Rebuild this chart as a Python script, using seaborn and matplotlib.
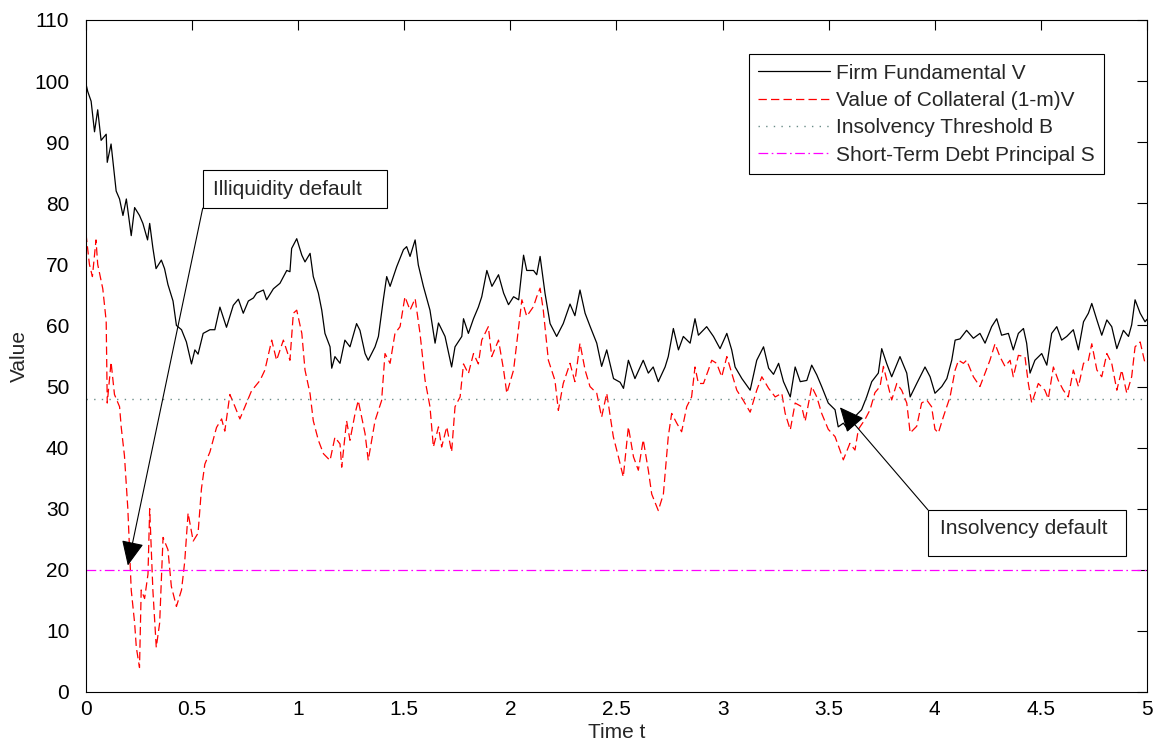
import numpy as np
import matplotlib
matplotlib.use('Agg')
import matplotlib.pyplot as plt
from matplotlib.patches import Rectangle
import seaborn as sns

# Firm fundamental V
t_v = [0.000, 0.008, 0.024, 0.040, 0.055, 0.071, 0.095, 0.100, 0.118, 0.142, 0.158, 0.174, 0.190, 0.213, 0.229,
       0.252, 0.268, 0.290, 0.300, 0.315, 0.330, 0.355, 0.370, 0.386, 0.410, 0.426, 0.450, 0.473, 0.497, 0.513,
       0.528, 0.552, 0.584, 0.607, 0.631, 0.662, 0.694, 0.718, 0.741, 0.765, 0.789, 0.804, 0.836, 0.851, 0.883,
       0.914, 0.946, 0.961, 0.969, 0.993, 1.017, 1.032, 1.056, 1.071, 1.095, 1.111, 1.126, 1.150, 1.158, 1.173,
       1.197, 1.220, 1.244, 1.275, 1.291, 1.315, 1.330, 1.362, 1.378, 1.401, 1.417, 1.433, 1.464, 1.496, 1.511,
       1.527, 1.551, 1.566, 1.590, 1.621, 1.645, 1.661, 1.692, 1.723, 1.739, 1.771, 1.779, 1.802, 1.826, 1.849,
       1.865, 1.889, 1.913, 1.944, 1.968, 1.991, 2.015, 2.039, 2.062, 2.077, 2.109, 2.124, 2.140, 2.163, 2.187,
       2.218, 2.249, 2.281, 2.304, 2.328, 2.352, 2.375, 2.407, 2.430, 2.454, 2.486, 2.517, 2.533, 2.556, 2.587,
       2.626, 2.650, 2.673, 2.697, 2.729, 2.744, 2.768, 2.792, 2.815, 2.847, 2.870, 2.886, 2.925, 2.957, 2.988,
       3.020, 3.043, 3.059, 3.091, 3.130, 3.161, 3.193, 3.217, 3.240, 3.264, 3.287, 3.319, 3.342, 3.366, 3.397,
       3.420, 3.444, 3.467, 3.498, 3.530, 3.545, 3.569, 3.593, 3.624, 3.655, 3.679, 3.703, 3.734, 3.750, 3.773,
       3.797, 3.836, 3.868, 3.884, 3.915, 3.954, 3.978, 4.001, 4.033, 4.057, 4.080, 4.096, 4.119, 4.150, 4.182,
       4.213, 4.237, 4.268, 4.292, 4.315, 4.347, 4.370, 4.394, 4.418, 4.433, 4.449, 4.472, 4.504, 4.528, 4.551,
       4.575, 4.598, 4.622, 4.653, 4.677, 4.701, 4.724, 4.740, 4.764, 4.787, 4.811, 4.834, 4.858, 4.889, 4.913,
       4.928, 4.944, 4.968, 4.991, 5.000]
v_vals = [99.5, 98.3, 96.7, 91.7, 95.3, 90.3, 91.3, 86.7, 89.7, 82.0, 80.7, 78.0, 80.7, 74.7, 79.3,
          78.0, 76.7, 74.0, 76.7, 72.7, 69.3, 70.7, 69.3, 66.7, 64.0, 60.0, 59.3, 57.3, 53.7, 56.0,
          55.3, 58.7, 59.3, 59.3, 63.0, 59.7, 63.3, 64.3, 62.0, 64.0, 64.5, 65.3, 65.8, 64.2, 66.0,
          66.9, 69.0, 68.8, 72.6, 74.2, 71.5, 70.4, 71.8, 68.0, 65.3, 62.5, 58.7, 56.5, 53.0, 54.9,
          53.8, 57.6, 56.5, 60.3, 59.2, 55.4, 54.3, 56.5, 58.2, 64.2, 68.0, 66.4, 69.6, 72.4, 72.9,
          71.3, 74.0, 69.9, 66.4, 62.5, 57.1, 60.4, 58.2, 53.2, 56.5, 58.2, 61.1, 58.7, 61.1, 63.0,
          64.7, 69.0, 66.4, 68.3, 65.3, 63.4, 64.7, 64.2, 71.5, 69.0, 69.0, 68.3, 71.3, 65.3, 60.3,
          58.2, 60.3, 63.5, 61.6, 65.8, 62.0, 59.9, 57.1, 53.3, 56.0, 51.3, 50.7, 49.7, 54.3, 51.3,
          54.3, 52.2, 53.2, 50.8, 53.2, 54.9, 59.5, 56.0, 58.2, 57.1, 61.1, 58.4, 59.8, 58.2, 56.2,
          58.7, 56.0, 53.2, 51.3, 49.4, 54.3, 56.5, 53.0, 52.0, 53.8, 50.8, 48.3, 53.2, 50.8, 51.0,
          53.5, 51.9, 50.0, 47.3, 46.2, 43.4, 44.0, 42.9, 45.1, 46.2, 48.3, 50.8, 52.2, 56.2, 53.8,
          51.6, 54.9, 52.2, 48.3, 50.5, 53.2, 51.6, 48.9, 50.0, 51.3, 54.3, 57.6, 57.8, 59.2, 57.9,
          58.7, 57.1, 59.8, 61.1, 58.4, 58.7, 56.0, 58.7, 59.5, 57.1, 52.2, 54.3, 55.4, 53.5, 58.7,
          59.8, 57.6, 58.2, 59.3, 56.0, 60.6, 62.0, 63.6, 60.9, 58.4, 60.9, 59.8, 56.2, 59.2, 58.2,
          60.1, 64.2, 62.0, 60.6, 61.0]

# Value of collateral (1-m)V
t_c = [0.000, 0.003, 0.016, 0.030, 0.047, 0.055, 0.079, 0.095, 0.100, 0.118, 0.134, 0.158, 0.166, 0.181, 0.197,
       0.205, 0.213, 0.229, 0.237, 0.252, 0.260, 0.276, 0.292, 0.300, 0.315, 0.331, 0.347, 0.363, 0.386, 0.402,
       0.426, 0.450, 0.465, 0.481, 0.505, 0.528, 0.544, 0.560, 0.584, 0.615, 0.639, 0.654, 0.678, 0.702, 0.725,
       0.749, 0.780, 0.820, 0.843, 0.875, 0.898, 0.930, 0.961, 0.977, 0.993, 1.017, 1.032, 1.056, 1.071, 1.095,
       1.119, 1.150, 1.173, 1.197, 1.205, 1.228, 1.244, 1.268, 1.283, 1.299, 1.315, 1.330, 1.362, 1.393, 1.409,
       1.433, 1.456, 1.480, 1.503, 1.527, 1.551, 1.574, 1.598, 1.621, 1.637, 1.661, 1.676, 1.700, 1.723, 1.739,
       1.763, 1.779, 1.802, 1.826, 1.849, 1.865, 1.896, 1.912, 1.944, 1.968, 1.983, 2.015, 2.039, 2.054, 2.077,
       2.109, 2.124, 2.140, 2.155, 2.179, 2.210, 2.226, 2.249, 2.281, 2.304, 2.328, 2.352, 2.375, 2.407, 2.430,
       2.454, 2.485, 2.509, 2.532, 2.556, 2.580, 2.603, 2.626, 2.650, 2.666, 2.697, 2.721, 2.744, 2.760, 2.784,
       2.807, 2.831, 2.854, 2.870, 2.886, 2.910, 2.933, 2.949, 2.972, 2.996, 3.020, 3.043, 3.067, 3.098, 3.130,
       3.161, 3.185, 3.217, 3.248, 3.279, 3.295, 3.319, 3.342, 3.373, 3.389, 3.420, 3.444, 3.467, 3.498, 3.530,
       3.553, 3.569, 3.600, 3.624, 3.640, 3.671, 3.695, 3.718, 3.742, 3.758, 3.781, 3.797, 3.821, 3.844, 3.868,
       3.884, 3.915, 3.938, 3.962, 3.985, 4.001, 4.017, 4.041, 4.072, 4.096, 4.112, 4.135, 4.150, 4.182, 4.213,
       4.237, 4.260, 4.284, 4.307, 4.331, 4.355, 4.370, 4.394, 4.425, 4.441, 4.457, 4.488, 4.519, 4.535, 4.559,
       4.582, 4.606, 4.629, 4.653, 4.677, 4.701, 4.724, 4.740, 4.764, 4.787, 4.811, 4.834, 4.858, 4.881, 4.905,
       4.928, 4.944, 4.968, 4.991, 5.000]
c_vals = [75.0, 74.0, 70.0, 68.0, 74.0, 70.0, 66.0, 60.7, 47.3, 54.0, 48.7, 46.7, 43.3, 38.7, 30.0,
          23.3, 16.7, 11.3, 7.3, 4.0, 16.7, 15.3, 19.3, 30.0, 16.7, 7.3, 11.3, 25.3, 23.3, 17.3,
          14.0, 16.7, 21.3, 29.3, 24.7, 26.0, 33.3, 37.3, 39.3, 43.3, 44.7, 42.7, 48.7, 46.7, 44.7,
          46.7, 49.3, 51.0, 52.7, 57.6, 54.3, 57.6, 54.3, 62.0, 62.5, 58.7, 52.7, 48.8, 44.4, 41.2,
          39.0, 37.9, 41.7, 40.6, 36.8, 44.4, 41.2, 45.6, 47.7, 45.0, 42.3, 37.9, 44.4, 47.7, 55.4,
          53.8, 58.7, 59.8, 64.7, 62.5, 64.4, 58.7, 51.0, 46.7, 40.1, 43.4, 40.1, 43.4, 39.3, 46.7,
          48.3, 53.7, 52.1, 55.4, 53.7, 57.6, 59.8, 54.9, 57.6, 52.7, 48.9, 52.7, 59.8, 64.2, 61.5,
          63.1, 64.7, 66.1, 62.5, 54.3, 51.0, 46.1, 50.5, 53.8, 50.8, 57.1, 52.7, 50.0, 48.9, 45.0,
          48.9, 41.8, 38.5, 35.2, 43.4, 38.5, 36.3, 41.3, 36.3, 32.4, 29.7, 32.4, 41.8, 45.6, 44.0,
          42.6, 46.7, 48.3, 53.2, 50.5, 50.5, 52.7, 54.3, 53.8, 51.6, 54.9, 52.2, 49.4, 47.7, 45.8,
          49.4, 51.6, 49.7, 48.3, 48.9, 45.6, 42.9, 47.3, 46.7, 44.3, 50.0, 48.3, 45.6, 43.0, 41.8,
          39.6, 38.0, 40.7, 39.6, 43.0, 44.6, 46.2, 49.0, 50.0, 53.3, 50.0, 47.8, 50.5, 49.4, 47.3,
          42.4, 43.5, 47.3, 47.8, 46.7, 43.0, 42.4, 45.1, 48.3, 52.7, 54.3, 53.8, 54.3, 51.6, 50.0,
          52.2, 54.3, 57.0, 54.9, 53.3, 54.3, 51.6, 55.1, 54.9, 50.5, 47.3, 50.5, 49.4, 48.0, 53.2,
          51.0, 49.4, 48.3, 52.7, 50.0, 53.8, 54.3, 57.0, 52.7, 51.6, 55.4, 53.8, 49.4, 52.7, 48.9,
          51.6, 56.5, 57.3, 53.8, 54.0]

B = 48   # insolvency threshold
S = 20   # short-term debt principal

sns.set_style('white')
plt.rcParams['font.family'] = ['Liberation Sans', 'DejaVu Sans']
plt.rcParams['lines.scale_dashes'] = False

fig = plt.figure(figsize=(11.61, 7.46), dpi=100)
ax = fig.add_axes([0.0741, 0.0724, 0.9138, 0.9008])

sns.lineplot(x=t_v, y=v_vals, ax=ax, color='black', lw=0.9, estimator=None, sort=False,
             label='Firm Fundamental V')
sns.lineplot(x=t_c, y=c_vals, ax=ax, color='#ff0000', lw=0.9, estimator=None, sort=False,
             linestyle=(0, (6, 3)), label='Value of Collateral (1-m)V')
ax.axhline(B, color='#6a8c88', lw=1.0, linestyle=(0, (1, 4.5)), label='Insolvency Threshold B')
ax.axhline(S, color='#ff00ff', lw=0.9, linestyle=(0, (7, 2.5, 1.2, 2.5)), label='Short-Term Debt Principal S')

ax.set_xlim(0, 5)
ax.set_ylim(0, 110)
ax.set_xticks(np.arange(0, 5.01, 0.5))
ax.set_xticklabels(['0', '0.5', '1', '1.5', '2', '2.5', '3', '3.5', '4', '4.5', '5'])
ax.set_yticks(np.arange(0, 111, 10))
ax.tick_params(direction='in', length=7, width=0.8, top=True, right=True, colors='black',
               labelsize=15)
ax.tick_params(axis='y', pad=12)
ax.tick_params(axis='x', pad=6)
for sp in ax.spines.values():
    sp.set_color('black')
    sp.set_linewidth(0.8)

ax.set_xlabel('Time t', fontsize=15, labelpad=3)
ax.set_ylabel('Value', fontsize=15, labelpad=4)

leg = ax.legend(loc='upper left', bbox_to_anchor=(0.625, 0.949), borderaxespad=0, fancybox=False,
                edgecolor='black', framealpha=1, fontsize=15, handlelength=3.45, handletextpad=0.25,
                labelspacing=0.4, borderpad=0.45)
leg.get_frame().set_linewidth(0.8)

arrow = dict(arrowstyle='-|>,head_length=1.1,head_width=0.5', color='black', lw=0.8,
             shrinkA=0, shrinkB=0, mutation_scale=14)

# Illiquidity default box + arrow
ax.add_patch(Rectangle((0.55, 79.2), 0.868, 6.2, fc='white', ec='black', lw=0.8, zorder=5))
ax.text(0.597, 82.3, 'Illiquidity default', fontsize=15, va='center', ha='left', zorder=6)
ax.annotate('', xy=(0.197, 20.7), xytext=(0.55, 79.2), arrowprops=arrow, zorder=6)

# Insolvency default box + arrow
ax.add_patch(Rectangle((3.968, 22.3), 0.933, 7.5, fc='white', ec='black', lw=0.8, zorder=5))
ax.text(4.025, 26.8, 'Insolvency default', fontsize=15, va='center', ha='left', zorder=6)
ax.annotate('', xy=(3.553, 46.6), xytext=(3.968, 29.8), arrowprops=arrow, zorder=6)

fig.savefig('out.png', dpi=100)
